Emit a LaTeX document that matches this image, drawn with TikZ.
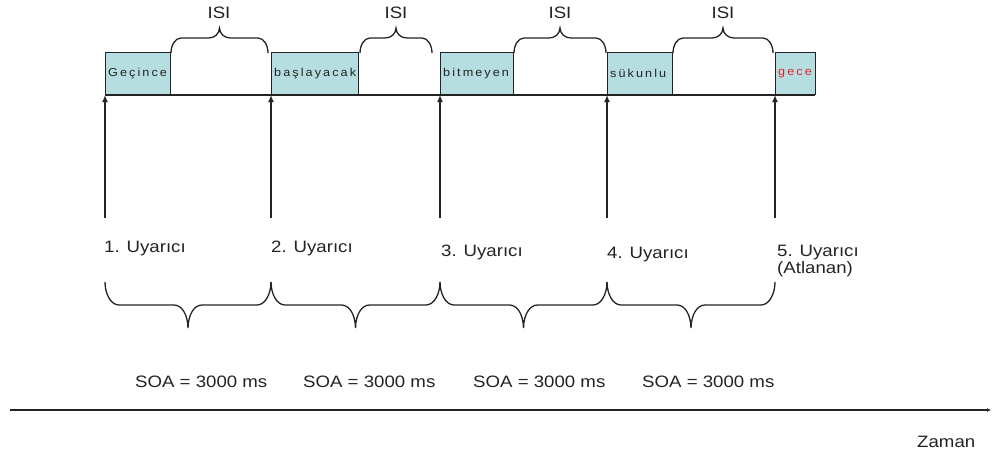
\documentclass[tikz,border=0pt]{standalone}
\usepackage{fontspec}
\setmainfont{Liberation Sans}[FakeStretch=1.13]
\newfontfamily\boxfont{Liberation Sans}[FakeStretch=1.1,LetterSpace=18]
\usetikzlibrary{calc,arrows.meta}
\definecolor{boxfill}{RGB}{182,222,224}
\definecolor{inkgray}{RGB}{35,35,35}
\definecolor{wordred}{RGB}{225,35,45}
\tikzset{
  stimbox/.style={draw=inkgray,line width=1.4pt,fill=boxfill,minimum height=42pt,
    inner xsep=2.5pt,inner ysep=0pt,anchor=south west,align=left,
    font=\boxfont\fontsize{11.5}{12}\selectfont,text=inkgray},
  lbl/.style={inner sep=0pt,anchor=base west,font=\fontsize{16.5}{18}\selectfont,text=inkgray},
  isilbl/.style={inner sep=0pt,anchor=base,font=\fontsize{16.5}{18}\selectfont,text=inkgray},
  bracestyle/.style={draw=inkgray,line width=1.3pt},
  stimarrow/.style={draw=inkgray,line width=1.4pt,-{Latex[length=7pt,width=6pt]}},
  axisline/.style={draw=inkgray,line width=1.2pt,-{Latex[length=4pt,width=4pt]}}
}
% #1 prefix, #2 start, #3 end, #4 offset to flat part, #5 offset to tip, #6 end-curve run, #7 tip-curve run
\newcommand{\drawcurly}[7]{%
  \coordinate (#1m) at ($(#2)!0.5!(#3)$);
  \draw[bracestyle] (#2)
    .. controls ($(#2)+({0},{0.5*(#4)})$) and ($(#2)+({0.4*(#6)},{#4})$) .. ($(#2)+({#6},{#4})$)
    -- ($(#1m)+({-1*(#7)},{#4})$)
    .. controls ($(#1m)+({-0.45*(#7)},{#4})$) and ($(#1m)+({-0.3},{(#4)+0.4*((#5)-(#4))})$) .. ($(#1m)+({0},{#5})$)
    .. controls ($(#1m)+({0.3},{(#4)+0.4*((#5)-(#4))})$) and ($(#1m)+({0.45*(#7)},{#4})$) .. ($(#1m)+({#7},{#4})$)
    -- ($(#3)+({-1*(#6)},{#4})$)
    .. controls ($(#3)+({-0.4*(#6)},{#4})$) and ($(#3)+({0},{0.5*(#4)})$) .. (#3);
}
\begin{document}
\begin{tikzpicture}[x=1pt,y=-1pt]
\useasboundingbox (0,0) rectangle (992,453);
% baseline of stimulus boxes
\coordinate (L0) at (105,95);
\coordinate (L1) at (815,95);
\draw[draw=inkgray,line width=1.4pt] (L0) -- (L1);
% stimulus boxes
\node[stimbox,text width=60pt] (b1) at (105,95) {Geçince};
\node[stimbox,text width=82pt] (b2) at (271,95) {başlayacak};
\node[stimbox,text width=68pt] (b3) at (440,95) {bitmeyen};
\node[stimbox,text width=60pt] (b4) at (607,95) {sükunlu};
\node[stimbox,text width=35pt,text=wordred] (b5) at (775,95) {gece};
% arrows
\coordinate (a1) at (105,218);
\coordinate (a2) at (271,218);
\coordinate (a3) at (440,218);
\coordinate (a4) at (607,218);
\coordinate (a5) at (775,218);
\draw[stimarrow] (a1) -- (b1.south west);
\draw[stimarrow] (a2) -- (b2.south west);
\draw[stimarrow] (a3) -- (b3.south west);
\draw[stimarrow] (a4) -- (b4.south west);
\draw[stimarrow] (a5) -- (b5.south west);
% ISI braces
\coordinate (i1s) at (171,53);
\coordinate (i1e) at (268,53);
\coordinate (i2s) at (360,53);
\coordinate (i2e) at (432,53);
\coordinate (i3s) at (514,53);
\coordinate (i3e) at (606,53);
\coordinate (i4s) at (673,53);
\coordinate (i4e) at (773,53);
\drawcurly{ib1}{i1s}{i1e}{-15}{-25}{10}{11}
\drawcurly{ib2}{i2s}{i2e}{-15}{-25}{10}{11}
\drawcurly{ib3}{i3s}{i3e}{-15}{-25}{10}{11}
\drawcurly{ib4}{i4s}{i4e}{-15}{-25}{10}{11}
\node[isilbl] (isi1) at (219,18) {ISI};
\node[isilbl] (isi2) at (396,18) {ISI};
\node[isilbl] (isi3) at (560,18) {ISI};
\node[isilbl] (isi4) at (723,18) {ISI};
% stimulus labels
\node[lbl] (u1) at (104,252) {1. Uyarıcı};
\node[lbl] (u2) at (271,252) {2. Uyarıcı};
\node[lbl] (u3) at (441,256) {3. Uyarıcı};
\node[lbl] (u4) at (607,258) {4. Uyarıcı};
\node[lbl] (u5) at (777,256) {5. Uyarıcı};
\node[lbl] (u5b) at (777,273) {(Atlanan)};
% SOA braces
\coordinate (s1) at (105,282);
\coordinate (s2) at (271,282);
\coordinate (s3) at (440,282);
\coordinate (s4) at (607,282);
\coordinate (s5) at (775,282);
\drawcurly{sb1}{s1}{s2}{23}{46}{14}{14}
\drawcurly{sb2}{s2}{s3}{23}{46}{14}{14}
\drawcurly{sb3}{s3}{s4}{23}{46}{14}{14}
\drawcurly{sb4}{s4}{s5}{23}{46}{14}{14}
\node[lbl] (soa1) at (135,387) {SOA = 3000 ms};
\node[lbl] (soa2) at (303,387) {SOA = 3000 ms};
\node[lbl] (soa3) at (473,387) {SOA = 3000 ms};
\node[lbl] (soa4) at (642,387) {SOA = 3000 ms};
% time axis
\coordinate (t0) at (10,410);
\coordinate (t1) at (991,410);
\draw[axisline] (t0) -- (t1);
\node[lbl] (zaman) at (917,447) {Zaman};
\end{tikzpicture}
\end{document}
